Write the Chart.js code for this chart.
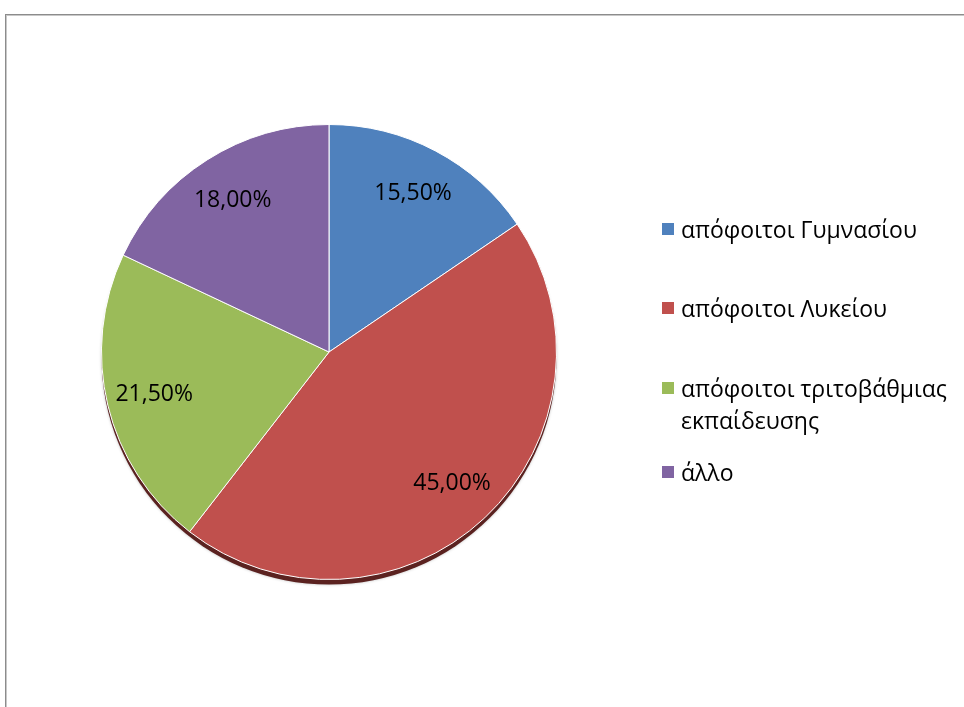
<!DOCTYPE html>
<html>
<head>
<meta charset="utf-8">
<script src="https://cdn.jsdelivr.net/npm/chart.js@4"></script>
<style>
    html, body { margin: 0; padding: 0; background: #fff; overflow: hidden; }
    #wrap { position: relative; width: 964px; height: 707px; }
    #frame { position: absolute; left: 5px; top: 14px; width: 1000px; height: 800px;
        border-left: 1px solid #8c8c8c; border-top: 1px solid #8c8c8c;
        box-shadow: inset 1px 1px 0 #c8c8c8; }
    canvas { position: absolute; left: 0; top: 0; }
    #legend { position: absolute; left: 662px; top: 213px; font-family: "Open Sans", sans-serif;
        font-size: 23px; color: #000; }
    .item { position: absolute; left: 0; white-space: nowrap; line-height: 32px; }
    .box { position: absolute; left: 0; top: 10px; width: 12px; height: 12px; }
    .txt { position: absolute; left: 19px; top: 0; }
</style>
</head>
<body>
<div id="wrap">
    <div id="frame"></div>
    <canvas id="pie" width="964" height="707"></canvas>
    <div id="legend"></div>
</div>
<script>
const categories = ['απόφοιτοι Γυμνασίου', 'απόφοιτοι Λυκείου', 'απόφοιτοι τριτοβάθμιας\nεκπαίδευσης', 'άλλο'];
const shares = [15.5, 45.0, 21.5, 18.0];
const sliceColors = ['#4f81bd', '#c0504d', '#9bbb59', '#8064a2'];
const legendTops = [0, 79, 159, 243];

const fmt = (v) => v.toFixed(2).replace('.', ',') + '%';

// percentages drawn inside each slice
const sliceLabels = {
    id: 'sliceLabels',
    afterDatasetsDraw(chart) {
        const ctx = chart.ctx;
        const meta = chart.getDatasetMeta(0);
        ctx.save();
        ctx.font = '23px "Open Sans", sans-serif';
        ctx.fillStyle = '#000';
        ctx.textAlign = 'center';
        ctx.textBaseline = 'middle';
        meta.data.forEach((arc, i) => {
            const p = arc.getProps(['x', 'y', 'startAngle', 'endAngle', 'outerRadius']);
            const mid = (p.startAngle + p.endAngle) / 2;
            const r = p.outerRadius * 0.79;
            ctx.fillText(fmt(shares[i]), p.x + Math.cos(mid) * r, p.y + Math.sin(mid) * r);
        });
        ctx.restore();
    }
};

// dark rim under the pie (the 3d edge)
const pieRim = {
    id: 'pieRim',
    beforeDatasetsDraw(chart) {
        const ctx = chart.ctx;
        const arc = chart.getDatasetMeta(0).data[0];
        if (!arc) return;
        const p = arc.getProps(['x', 'y', 'outerRadius']);
        ctx.save();
        ctx.fillStyle = '#5b2220';
        ctx.shadowColor = 'rgba(0, 0, 0, 0.25)';
        ctx.shadowBlur = 3;
        ctx.beginPath();
        ctx.arc(p.x, p.y + 5, p.outerRadius, 0, Math.PI * 2);
        ctx.fill();
        ctx.restore();
    }
};

const context = document.getElementById('pie').getContext('2d');

const myChart = new Chart(context, {
    type: 'pie',
    data: {
        labels: categories,
        datasets: [{
            data: shares,
            backgroundColor: sliceColors,
            borderColor: '#ffffff',
            borderWidth: 1
        }]
    },
    options: {
        responsive: false,
        animation: false,
        layout: { padding: { left: 101, right: 407, top: 124, bottom: 127 } },
        plugins: {
            legend: { display: false },
            tooltip: { enabled: false }
        }
    },
    plugins: [pieRim, sliceLabels]
});

// legend on the right
const legend = document.getElementById('legend');
categories.forEach((name, i) => {
    const item = document.createElement('div');
    item.className = 'item';
    item.style.top = legendTops[i] + 'px';
    const box = document.createElement('div');
    box.className = 'box';
    box.style.background = sliceColors[i];
    const txt = document.createElement('div');
    txt.className = 'txt';
    txt.innerHTML = name.split('\n').join('<br>');
    item.appendChild(box);
    item.appendChild(txt);
    legend.appendChild(item);
});
</script>
</body>
</html>
